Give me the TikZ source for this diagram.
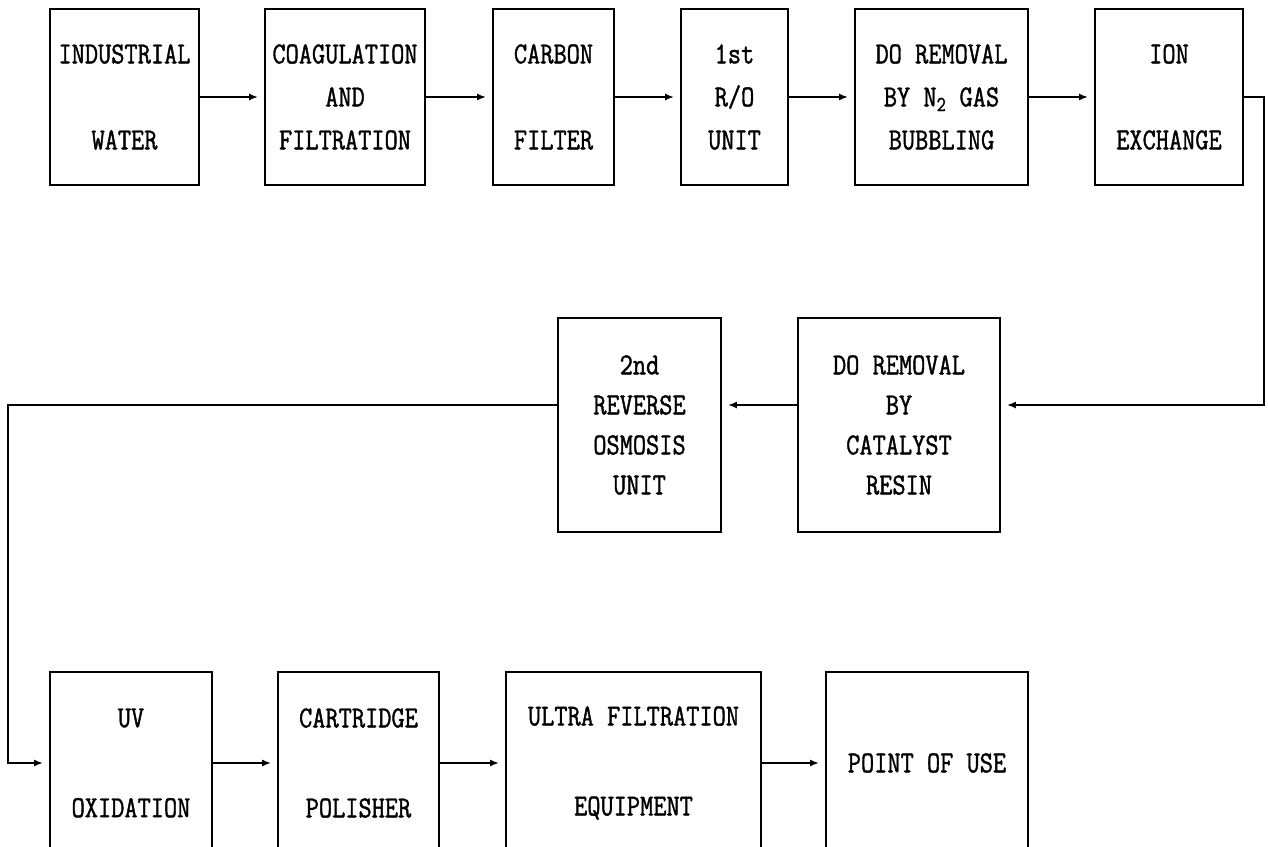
\documentclass[tikz,border=0pt]{standalone}
\usepackage{fontspec}
\newfontfamily\boxfont{Latin Modern Mono}[FakeStretch=0.84, FakeBold=1.3]
\usepackage{tikz}
\usetikzlibrary{arrows.meta,positioning,calc}
\newcommand{\rowfont}[1]{\boxfont\fontsize{30.5}{#1}\selectfont}
\tikzset{
    box/.style={
        draw,
        line width=1.8pt,
        align=center,
        inner sep=0pt
    },
    toprow/.style={box, minimum height=176pt, font=\rowfont{43}},
    midrow/.style={box, minimum height=214pt, font=\rowfont{40}},
    lowrow/.style={box, minimum height=182pt, font=\rowfont{45}},
    flow/.style={-{Latex[length=9pt,width=7pt]}, line width=1.8pt, shorten >=6pt}
}

\begin{document}
\begin{tikzpicture}[x=1pt,y=-1pt]
        \useasboundingbox (0,0) rectangle (1268,846);

        % first row
        \node[toprow, minimum width=149pt] (water) at (124.5,97) {INDUSTRIAL\\\mbox{}\\WATER};
        \node[toprow, minimum width=160pt] (coag) at (345,97) {COAGULATION\\AND\\FILTRATION};
        \node[toprow, minimum width=121pt] (carbon) at (553.5,97) {CARBON\\\mbox{}\\FILTER};
        \node[toprow, minimum width=107pt] (roone) at (734.5,97) {1st\\R/O\\UNIT};
        \node[toprow, minimum width=173pt] (nbub) at (941.5,97) {DO REMOVAL\\BY N\textsubscript{2} GAS\\BUBBLING};
        \node[toprow, minimum width=148pt] (ionex) at (1169,97) {ION\\\mbox{}\\EXCHANGE};

        % second row
        \node[midrow, minimum width=202pt] (catres) at (899,425) {DO REMOVAL\\BY\\CATALYST\\RESIN};
        \node[midrow, minimum width=163pt] (rotwo) at (639.5,425) {2nd\\REVERSE\\OSMOSIS\\UNIT};

        % third row
        \node[lowrow, minimum width=162pt] (uvox) at (131,763) {UV\\\mbox{}\\OXIDATION};
        \node[lowrow, minimum width=161pt] (polish) at (358.5,763) {CARTRIDGE\\\mbox{}\\POLISHER};
        \node[lowrow, minimum width=255pt] (ultraf) at (633.5,763) {ULTRA FILTRATION\\\mbox{}\\EQUIPMENT};
        \node[lowrow, minimum width=202pt] (pou) at (927,763) {POINT OF USE};

        \coordinate (turnR) at (1264,405);
        \coordinate (turnL) at (8,405);

        \draw[flow] (water) -- (coag);
        \draw[flow] (coag) -- (carbon);
        \draw[flow] (carbon) -- (roone);
        \draw[flow] (roone) -- (nbub);
        \draw[flow] (nbub) -- (ionex);
        \draw[flow] (ionex.east) -| (turnR) -- (turnR -| catres.east);
        \draw[flow] (catres.west |- turnR) -- (rotwo.east |- turnR);
        \draw[flow] (rotwo.west |- turnL) -- (turnL) |- (uvox.west);
        \draw[flow] (uvox) -- (polish);
        \draw[flow] (polish) -- (ultraf);
        \draw[flow] (ultraf) -- (pou);
    \end{tikzpicture}
\end{document}
